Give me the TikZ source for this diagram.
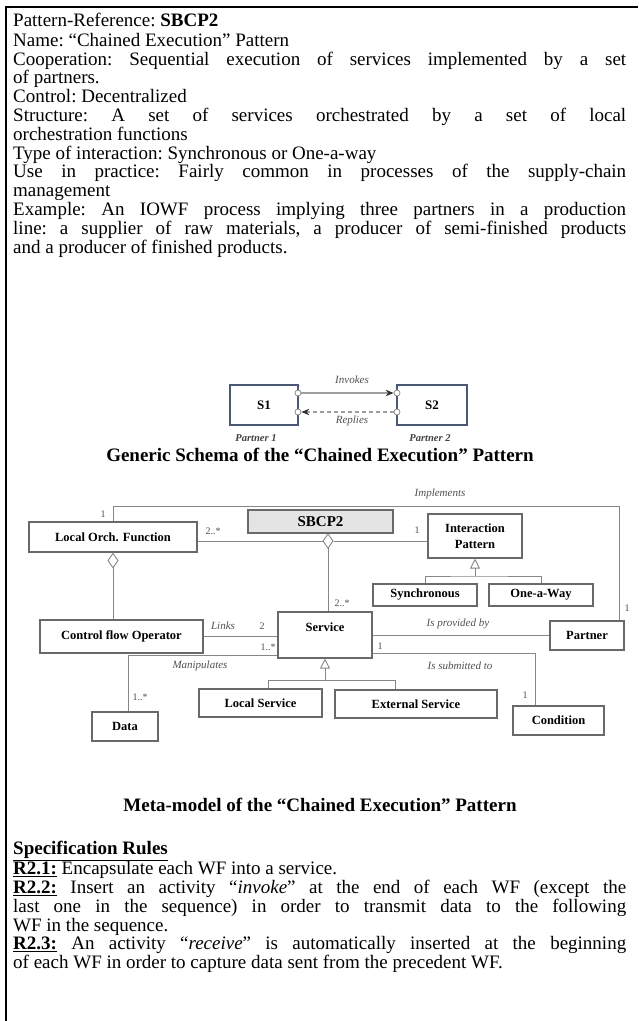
\documentclass[tikz,border=0pt]{standalone}
\usepackage{fontspec}
\setmainfont{Liberation Serif}
\usetikzlibrary{arrows.meta,calc}
\definecolor{boxc}{RGB}{105,105,105}
\definecolor{linec}{RGB}{135,135,135}
\definecolor{lblc}{RGB}{80,80,80}
\definecolor{sbox}{RGB}{75,88,115}
\definecolor{sbcpfill}{RGB}{228,228,228}
\begin{document}
\begin{tikzpicture}[x=1pt,y=-1pt,
  box/.style={draw=boxc, line width=1.1pt, inner sep=0pt, font=\fontsize{12.5}{16}\selectfont\bfseries, align=center},
  boxtxt/.style={inner sep=0pt, font=\fontsize{12.5}{16}\selectfont\bfseries},
  conn/.style={draw=linec, line width=0.9pt},
  rel/.style={font=\fontsize{11}{12}\selectfont\itshape, text=lblc, inner sep=0pt},
  mult/.style={font=\fontsize{10}{11}\selectfont, text=lblc, inner sep=0pt},
  bodytxt/.style={inner sep=0pt, anchor=north west, text width=613pt, align=justify, font=\fontsize{19}{18.8}\selectfont},
  captxt/.style={font=\fontsize{19}{20}\selectfont\bfseries, inner sep=0pt},
  agg/.style={{Diamond[open,length=16pt,width=11pt]}-},
  gen/.style={-{Triangle[open,length=10pt,width=10pt]}},
  sch/.style={draw=sbox, line width=1.6pt, inner sep=0pt, font=\fontsize{13}{14}\selectfont\bfseries},
  port/.style={circle, draw=gray, fill=white, line width=0.7pt, minimum size=6pt, inner sep=0pt},
  ptxt/.style={font=\fontsize{10.5}{12}\selectfont\bfseries\itshape, text=black!75, inner sep=0pt},
]
\useasboundingbox (0,0) rectangle (638,1021);
% frame
\draw[line width=2pt] (6,1021) -- (6,7) -- (638,7);

% intro text
\node[bodytxt] (intro) at (13,12.8) {\frenchspacing\hyphenpenalty=10000 \tolerance=9999 \pretolerance=-1
\strut Pattern-Reference: \textbf{SBCP2}\par
Name: “Chained Execution” Pattern\par
Cooperation: Sequential execution of services implemented by a set\linebreak of partners.\par
Control: Decentralized\par
Structure: A set of services orchestrated by a set of local\linebreak orchestration functions\par
Type of interaction: Synchronous or One-a-way\par
Use in practice: Fairly common in processes of the supply-chain\linebreak management\par
Example: An IOWF process implying three partners in a production\linebreak line: a supplier of raw materials, a producer of semi-finished products\linebreak and a producer of finished products.\par};

% generic schema
\node[sch, minimum width=68pt, minimum height=40pt] (s1) at (264,405) {S1};
\node[sch, minimum width=70pt, minimum height=40pt] (s2) at (432,405) {S2};
\node[port] (p1) at (298,393) {};
\node[port] (p2) at (298,412) {};
\node[port] (p3) at (397,393) {};
\node[port] (p4) at (397,412) {};
\draw[draw=gray!75, line width=1.2pt, -{Stealth[length=8pt,width=6.5pt,color=black!80]}] (p1) -- (p3);
\draw[draw=gray!75, line width=1.2pt, dash pattern=on 4pt off 3pt, -{Stealth[length=8pt,width=6.5pt,color=black!80]}] (p4) -- (p2);
\node[rel] (inv) at (352,380) {Invokes};
\node[rel] (rep) at (352,421) {Replies};
\node[ptxt] (pt1) at (256,438) {Partner 1};
\node[ptxt] (pt2) at (430,438) {Partner 2};
\node[captxt] (cap1) at (320,455) {Generic Schema of the “Chained Execution” Pattern};

% meta-model boxes
\node[box, minimum width=168pt, minimum height=30pt] (lof) at (113,537) {Local Orch. Function};
\node[box, fill=sbcpfill, minimum width=145pt, minimum height=23pt, font=\fontsize{15}{16}\selectfont\bfseries] (sbcp) at (320.5,521.5) {SBCP2};
\node[box, minimum width=94pt, minimum height=44pt] (ip) at (475,536) {Interaction\\Pattern};
\node[box, minimum width=104pt, minimum height=22pt] (syn) at (425,595) {Synchronous};
\node[box, minimum width=104pt, minimum height=22pt] (one) at (541,595) {One-a-Way};
\node[box, minimum width=163pt, minimum height=33pt] (cfo) at (121.5,636.5) {Control flow Operator};
\node[box, minimum width=94pt, minimum height=46pt] (svc) at (325,635) {};
\node[boxtxt] (svct) at (325,627) {Service};
\node[box, minimum width=74pt, minimum height=29pt] (par) at (587,635.5) {Partner};
\node[box, minimum width=66pt, minimum height=29pt] (data) at (125,726.5) {Data};
\node[box, minimum width=123pt, minimum height=28pt] (ls) at (260.5,703) {Local Service};
\node[box, minimum width=162pt, minimum height=28pt] (es) at (416,704) {External Service};
\node[box, minimum width=91pt, minimum height=29pt] (cond) at (558.5,720.5) {Condition};

% coordinates
\coordinate (imp) at (619,506);
\coordinate (dtop) at (328,533);
\coordinate (dl) at (322.5,541);
\coordinate (dr) at (333.5,541);
\coordinate (gi) at (475,576);
\coordinate (sc) at (535,653);
\coordinate (sd) at (128,655);
\coordinate (gl) at (268,680);
\coordinate (gr) at (395,680);

% connectors
\draw[conn] (lof.north) |- (imp) -- (imp |- par.north);
\draw[conn, agg] (dtop) -- (dtop |- svc.north);
\draw[conn] (lof.east |- dl) -- (dl);
\draw[conn] (dr) -- (dr -| ip.west);
\draw[conn, agg] (lof.south) -- (lof.south |- cfo.north);
\draw[conn, gen] (gi) -- (ip.south |- gi) -- (ip.south);
\draw[conn] (syn.north) |- (gi) -| (one.north);
\draw[conn] (cfo.east) -- (svc.west |- cfo.east);
\draw[conn] (svc.east |- par.west) -- (par.west);
\draw[conn] (svc.east |- sc) -- (sc) -- (sc |- cond.north);
\draw[conn] (svc.west |- sd) -- (sd) -- (sd |- data.north);
\draw[conn, gen] (svc.south |- gl) -- (svc.south);
\draw[conn] (ls.north -| gl) -- (gl) -- (gr) -- (gr |- es.north);

% labels
\node[rel] (limp) at (440,494) {Implements};
\node[mult] (m1) at (103,514) {1};
\node[mult] (m2) at (627,608) {1};
\node[mult] (m3) at (213,531) {2..*};
\node[mult] (m4) at (417,530) {1};
\node[mult] (m5) at (342,603) {2..*};
\node[rel] (llinks) at (223,626) {Links};
\node[mult] (m6) at (262,626) {2};
\node[rel] (lprov) at (458,624) {Is provided by};
\node[mult] (m7) at (380,646) {1};
\node[rel] (lsub) at (460,666) {Is submitted to};
\node[mult] (m8) at (525,695) {1};
\node[mult] (m9) at (268,647) {1..*};
\node[rel] (lman) at (200,666) {Manipulates};
\node[mult] (m10) at (140,697) {1..*};

\node[captxt] (cap2) at (320,805) {Meta-model of the “Chained Execution” Pattern};

% rules
\node[bodytxt] (rules) at (13,840.8) {\frenchspacing\hyphenpenalty=10000 \tolerance=9999 \pretolerance=-1
\strut\textbf{\underline{Specification Rules}}\par
\textbf{\underline{R2.1:}} Encapsulate each WF into a service.\par
\textbf{\underline{R2.2:}} Insert an activity “\textit{invoke}” at the end of each WF (except the\linebreak last one in the sequence) in order to transmit data to the following\linebreak WF in the sequence.\par
\textbf{\underline{R2.3:}} An activity “\textit{receive}” is automatically inserted at the beginning\linebreak of each WF in order to capture data sent from the precedent WF.\par};
\end{tikzpicture}
\end{document}
